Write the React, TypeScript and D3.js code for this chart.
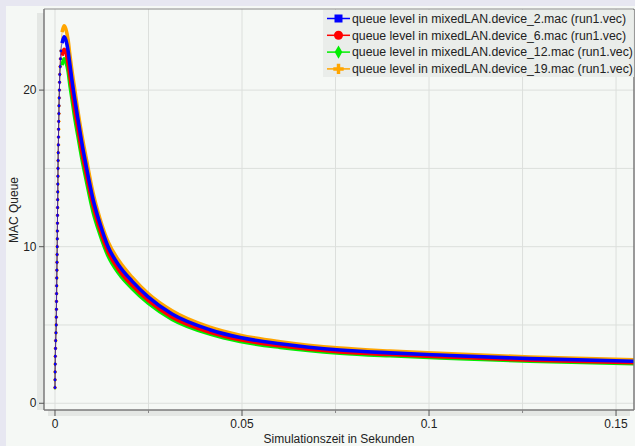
import React from "react";
import * as d3 from "d3";

// rising edge (same for all devices, dots ~0.5 apart)
const riseTime = [
  0, 0.000013, 0.000027, 0.000053, 0.00008, 0.000134, 0.000187, 0.000254, 0.000321, 0.000348,
  0.000374, 0.000401, 0.000428, 0.000455, 0.000481, 0.000508, 0.000535, 0.000561, 0.000588, 0.000615,
  0.000628, 0.000655, 0.000668, 0.000695, 0.000722, 0.000749, 0.000762, 0.000789, 0.000802, 0.000829,
  0.000856, 0.000896, 0.000936, 0.000963, 0.001003, 0.001043, 0.00107, 0.001123, 0.001176, 0.00123,
  0.001283, 0.001377, 0.001471, 0.001578,
];
const riseLevel = [
  1.0, 1.5, 2.0, 2.5, 3.0, 3.5, 4.0, 4.5, 5.0, 5.5,
  6.0, 6.5, 7.0, 7.5, 8.0, 8.5, 9.0, 9.5, 10.0, 10.5,
  11.0, 11.5, 12.0, 12.5, 13.0, 13.5, 14.0, 14.5, 15.0, 15.5,
  16.0, 16.5, 17.0, 17.5, 18.0, 18.5, 19.0, 19.5, 20.0, 20.5,
  21.0, 21.5, 22.0, 22.5,
];

// peak and decay
const decayTime = [
  0.0019, 0.0024, 0.0029, 0.0035, 0.004, 0.0045, 0.0053, 0.0061, 0.0072, 0.0083,
  0.0102, 0.012, 0.0142, 0.0171, 0.0206, 0.0249, 0.0313, 0.0414, 0.0495, 0.0602,
  0.0762, 0.0896, 0.1029, 0.127, 0.1548,
];
const device2 = [
  23.0, 23.4, 23.2, 22.5, 21.6, 20.7, 19.4, 18.2, 16.6, 15.2,
  13.0, 11.5, 10.0, 8.8, 7.8, 6.8, 5.7, 4.7, 4.2, 3.8,
  3.4, 3.22, 3.08, 2.85, 2.68,
];
const device6 = [
  22.2, 22.6, 22.4, 21.7, 20.9, 20.0, 18.7, 17.6, 16.0, 14.7,
  12.6, 11.1, 9.66, 8.5, 7.53, 6.57, 5.5, 4.54, 4.06, 3.67,
  3.28, 3.11, 2.98, 2.75, 2.59,
];
const device12 = [
  21.6, 22.0, 21.8, 21.2, 20.3, 19.5, 18.2, 17.1, 15.6, 14.3,
  12.2, 10.8, 9.4, 8.27, 7.33, 6.39, 5.36, 4.42, 3.95, 3.57,
  3.2, 3.03, 2.9, 2.68, 2.52,
];
const device19 = [
  23.7, 24.1, 23.9, 23.2, 22.2, 21.3, 20.0, 18.7, 17.1, 15.7,
  13.4, 11.8, 10.3, 9.1, 8.05, 7.0, 5.9, 4.85, 4.35, 3.93,
  3.52, 3.33, 3.19, 2.95, 2.78,
];

const seriesNames = [
  "queue level in mixedLAN.device_2.mac (run1.vec)",
  "queue level in mixedLAN.device_6.mac (run1.vec)",
  "queue level in mixedLAN.device_12.mac (run1.vec)",
  "queue level in mixedLAN.device_19.mac (run1.vec)",
];
const seriesColors = ["#0000ff", "#ff0000", "#00ee00", "#ffa500"];
const seriesSymbols = [d3.symbolSquare, d3.symbolCircle, d3.symbolDiamond, d3.symbolCross];
const seriesValues = [device2, device6, device12, device19];

const xTicks = [0, 0.05, 0.1, 0.15];
const xMinorTicks = [0.025, 0.075, 0.125];
const xGrid = [0, 0.025, 0.05, 0.075, 0.1, 0.125, 0.15];
const yTicks = [0, 10, 20];
const yGrid = [0, 5, 10, 15, 20];

const W = 635;
const H = 446;
const left = 44;
const right = 634;
const top = 9;
const bottom = 410;
const font = "'Liberation Sans', Arial, sans-serif";

const App = () => {
  const x = d3.scaleLinear().domain([-0.00294, 0.1548]).range([left, right]);
  const y = d3.scaleLinear().domain([-0.43, 25.18]).range([bottom, top]);

  const line = d3
    .line<[number, number]>()
    .x((d) => x(d[0]))
    .y((d) => y(d[1]))
    .curve(d3.curveMonotoneX);

  const series = seriesValues.map((vals, i) => {
    const rise: [number, number][] = riseTime
      .map((t, j) => [t, riseLevel[j]] as [number, number])
      .filter((d) => d[1] < vals[0]);
    const decay: [number, number][] = decayTime.map((t, j) => [t, vals[j]]);
    return { i, rise, decay, color: seriesColors[i], symbol: seriesSymbols[i] };
  });
  // draw orange first, blue last
  const drawOrder = [3, 2, 1, 0];

  const markerPath = (sym: d3.SymbolType, size: number) => d3.symbol().type(sym).size(size)() || "";

  return (
    <>
      <style>{`body{margin:0}`}</style>
      <svg width={W} height={H} style={{ display: "block", fontFamily: font }}>
        <defs>
          <clipPath id="plotClip">
            <rect x={left} y={top} width={right - left} height={bottom - top} />
          </clipPath>
        </defs>
        <rect x={0} y={0} width={W} height={H} fill="#e7e7f1" />
        <rect x={6} y={6} width={W - 6} height={H - 6} fill="#f5f8f5" />

        {/* axis bands */}
        <rect x={37} y={13} width={left - 37} height={bottom - 13} fill="#e4e7e4" />
        <rect x={48} y={bottom} width={630 - 48} height={6} fill="#e4e7e4" />

        {/* grid */}
        {xGrid.map((t) => (
          <line key={"gx" + t} x1={x(t)} x2={x(t)} y1={top} y2={bottom} stroke="#dcdfdc" />
        ))}
        {yGrid.map((v) => (
          <line key={"gy" + v} x1={left} x2={right} y1={y(v)} y2={y(v)} stroke="#dcdfdc" />
        ))}

        {/* series */}
        <g clipPath="url(#plotClip)">
          {drawOrder.map((k) => {
            const s = series[k];
            return (
              <g key={"s" + k}>
                <path d={line([...s.rise, ...s.decay]) || ""} fill="none" stroke={s.color} strokeOpacity={0.6} strokeWidth={1} />
                <path d={line(s.decay) || ""} fill="none" stroke={s.color} strokeWidth={3.6} strokeLinejoin="round" />
                {s.rise.map((d, j) => (
                  <path
                    key={j}
                    d={markerPath(s.symbol, k === 3 ? 8 : 6)}
                    transform={`translate(${x(d[0])},${y(d[1])})`}
                    fill={s.color}
                  />
                ))}
              </g>
            );
          })}
        </g>

        {/* frame */}
        <line x1={left} x2={right} y1={top} y2={top} stroke="#8a8a8a" />
        <line x1={left} x2={left} y1={top} y2={bottom} stroke="#7a7a7a" strokeWidth={1.5} />
        <line x1={left} x2={right} y1={bottom} y2={bottom} stroke="#7a7a7a" strokeWidth={1.5} />
        <line x1={right} x2={right} y1={top} y2={bottom} stroke="#7a7a7a" strokeWidth={1.5} />

        {/* y axis */}
        {yTicks.map((v) => (
          <g key={"yt" + v}>
            <line x1={39} x2={left} y1={y(v)} y2={y(v)} stroke="#555" />
            <text x={36.5} y={y(v)} dy="0.35em" textAnchor="end" fontSize={12} fill="#222">
              {v}
            </text>
          </g>
        ))}
        <text transform="translate(18,210) rotate(-90)" textAnchor="middle" fontSize={12} fill="#222">
          MAC Queue
        </text>

        {/* x axis */}
        {xTicks.map((t) => (
          <g key={"xt" + t}>
            <line x1={x(t)} x2={x(t)} y1={bottom} y2={bottom + 6} stroke="#555" />
            <text x={x(t)} y={428} textAnchor="middle" fontSize={12} fill="#222">
              {t}
            </text>
          </g>
        ))}
        {xMinorTicks.map((t) => (
          <line key={"xm" + t} x1={x(t)} x2={x(t)} y1={bottom} y2={bottom + 3} stroke="#888" />
        ))}
        <text x={339} y={443} textAnchor="middle" fontSize={12} fill="#222">
          Simulationszeit in Sekunden
        </text>

        {/* legend */}
        <g>
          <rect x={323} y={10} width={right - 323} height={67} fill="#e9ece9" fillOpacity={0.95} />
          {series.map((s) => {
            const cy = 18.5 + s.i * 16.8;
            return (
              <g key={"lg" + s.i}>
                <line x1={327} x2={350} y1={cy} y2={cy} stroke={s.color} strokeWidth={1.5} />
                <path
                  d={markerPath(s.symbol, s.i === 3 ? 60 : s.i === 2 ? 50 : 64)}
                  transform={`translate(338.5,${cy})`}
                  fill={s.color}
                />
                <text x={352} y={cy} dy="0.35em" fontSize={12.3} fill="#222">
                  {seriesNames[s.i]}
                </text>
              </g>
            );
          })}
        </g>
      </svg>
    </>
  );
};

export default App;
